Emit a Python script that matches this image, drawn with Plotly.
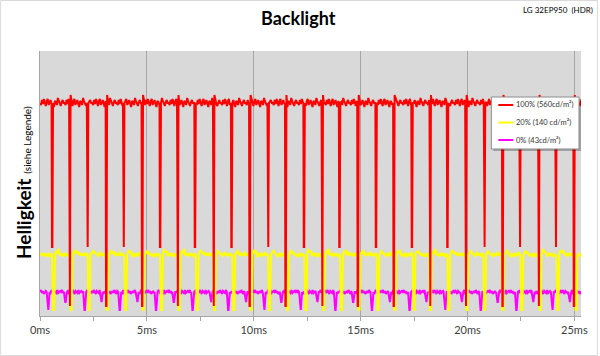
import plotly.graph_objects as go

# ---------------- data ----------------
series_names = ["100% (560cd/m²)", "20% (140 cd/m²)", "0% (43cd/m²)"]
series_colors = ["#ff0000", "#ffff00", "#ff00ff"]

# dip positions in ms
red_dips = [0.56, 1.38, 2.21, 3.09, 3.90, 4.77, 5.61, 6.43, 7.24, 8.11,
            8.95, 9.80, 10.66, 11.48, 12.34, 13.19, 14.00, 14.86, 15.71, 16.54,
            17.39, 18.24, 19.05, 19.91, 20.78, 21.63, 22.44, 23.32, 24.12, 24.97]
red_bottoms = [69, 10, 69, 10, 69, 10, 69, 10, 69, 10,
               69, 10, 69, 10, 69, 10, 69, 10, 69, 10,
               69, 10, 69, 10, 69, 10, 69, 10, 69, 10]
red_level = 213
red_ripple = [0, -2, 3, -1, 4, 1, -3, 2, 4, -2, 0, 3, -1, -4, 2, 1, -2, 5, 2, -1, -3, 1, 3, 0]

yellow_dips = [0.61, 1.43, 2.27, 3.12, 3.98, 4.80, 5.66, 6.48, 7.33, 8.14,
               9.04, 9.85, 10.71, 11.56, 12.41, 13.24, 14.08, 14.90, 15.79, 16.58,
               17.47, 18.24, 19.10, 19.95, 20.78, 21.63, 22.52, 23.37, 24.20, 25.05]
yellow_bottoms = [6, 6, 6, 6, 6, 6, 6, 6, 6, 6,
                  6, 6, 6, 6, 6, 6, 6, 6, 6, 6,
                  6, 6, 6, 6, 6, 6, 6, 6, 6, 6]
yellow_level = 61
yellow_ripple = [0, 1, -1, 0, 2, -1, 1, 0, -2, 1, 0, -1, 2, 0, -1, 1, 3, 0]

magenta_dips = [0.37, 1.18, 2.08, 2.86, 3.72, 4.54, 5.42, 6.25, 7.13, 7.99,
                8.80, 9.62, 10.48, 11.28, 12.18, 12.96, 13.81, 14.64, 15.52, 16.35,
                17.28, 18.06, 18.94, 19.72, 20.61, 21.40, 22.28, 23.06, 23.96, 24.77]
magenta_bottoms = [6, 14, 6, 14, 6, 14, 6, 14, 6, 14,
                   6, 14, 6, 14, 6, 14, 6, 14, 6, 14,
                   6, 14, 6, 14, 6, 14, 6, 14, 6, 14]
magenta_level = 24
magenta_ripple = [0, 2, -1, 1, -2, 0, 1, -1, 2, 0, -2, 1, 0, -1, 2, -1, 0, 1]

x_tick_vals = [0, 5, 10, 15, 20, 25]
x_tick_text = ["0ms", "5ms", "10ms", "15ms", "20ms", "25ms"]
x_max = 25.31
y_max = 265

title_text = "Backlight"
subtitle_text = "LG 32EP950  (HDR)"
y_title_main = "Helligkeit"
y_title_sub = "(siehe Legende)"


# ---------------- build waveforms ----------------
def build(dips, bottoms, level, ripple, w_down, w_flat, w_up, spike, bump):
    xs, ys = [], []
    t, k = 0.0, 0
    step = 0.045
    end_after = 0.0
    for d, b in zip(dips, bottoms):
        while t < d - w_down:
            extra = bump if t < end_after else 0
            xs.append(t)
            ys.append(level + ripple[k % len(ripple)] + extra)
            k += 1
            t += step
        xs += [d - w_down, d, d + w_flat, d + w_flat + w_up]
        ys += [level, b, b, level + (spike if b < level * 0.2 else 0)]
        t = d + w_flat + w_up + step
        end_after = t + 0.18
    while t <= x_max + 0.05:
        xs.append(t)
        ys.append(level + ripple[k % len(ripple)])
        k += 1
        t += step
    return xs, ys


rx, ry = build(red_dips, red_bottoms, red_level, red_ripple, 0.02, 0.02, 0.03, 8, 0)
yx, yy = build(yellow_dips, yellow_bottoms, yellow_level, yellow_ripple, 0.04, 0.05, 0.04, 0, 3)
mx, my = build(magenta_dips, magenta_bottoms, magenta_level, magenta_ripple, 0.06, 0.02, 0.06, 0, 0)

fig = go.Figure()
for xs, ys, name, col in [(mx, my, series_names[2], series_colors[2]),
                          (yx, yy, series_names[1], series_colors[1]),
                          (rx, ry, series_names[0], series_colors[0])]:
    fig.add_trace(go.Scatter(x=xs, y=ys, mode="lines", name=name,
                             line=dict(color=col, width=2), showlegend=False,
                             hoverinfo="skip"))

# ---------------- layout ----------------
L, R, T, B = 40, 583, 51, 316
W_, H_ = 600, 356


def px2x(px):
    return (px - L) / (R - L)


def px2y(py):
    return (B - py) / (B - T)


FONT = "Lato, 'Open Sans', sans-serif"

fig.update_layout(
    width=W_, height=H_,
    margin=dict(l=L, r=W_ - R, t=T, b=H_ - B),
    paper_bgcolor="white",
    plot_bgcolor="#d9d9d9",
    font=dict(family=FONT, color="#404040"),
    xaxis=dict(range=[0, x_max], tickvals=x_tick_vals, ticktext=x_tick_text,
               showgrid=True, gridcolor="#a6a6a6", gridwidth=1,
               ticks="outside", ticklen=4, tickcolor="#a6a6a6",
               minor=dict(dtick=2.5, ticks="outside", ticklen=4, tickcolor="#a6a6a6", showgrid=False),
               showline=True, linecolor="#a6a6a6", linewidth=1,
               zeroline=False, tickfont=dict(size=11, color="#404040", family=FONT)),
    yaxis=dict(range=[0, y_max], showgrid=False, showticklabels=False, ticks="",
               showline=True, linecolor="#a6a6a6", linewidth=1, zeroline=False),
)

shapes = []
annotations = []
# outer chart border
shapes.append(dict(type="rect", xref="paper", yref="paper",
                   x0=px2x(0.5), x1=px2x(599.5), y0=px2y(355.5), y1=px2y(0.5),
                   line=dict(color="#d9d9d9", width=1), fillcolor="rgba(0,0,0,0)", layer="below"))

# title & subtitle
annotations.append(dict(text="<b>" + title_text + "</b>", xref="paper", yref="paper",
                        x=px2x(299), y=px2y(18), xanchor="center", yanchor="middle",
                        showarrow=False, font=dict(size=18, color="black", family=FONT)))
annotations.append(dict(text=subtitle_text, xref="paper", yref="paper",
                        x=px2x(597), y=px2y(10), xanchor="right", yanchor="middle",
                        showarrow=False, font=dict(size=8, color="black", family=FONT)))
# y title
annotations.append(dict(text="<b>" + y_title_main + "</b> <span style='font-size:10px'>" + y_title_sub + "</span>",
                        xref="paper", yref="paper", x=px2x(23), y=px2y(183),
                        xanchor="center", yanchor="middle", textangle=-90, showarrow=False,
                        font=dict(size=19, color="black", family=FONT)))

# legend (manual)
lx0, lx1, ly0, ly1 = 493, 581, 97, 149
shapes.append(dict(type="rect", xref="paper", yref="paper",
                   x0=px2x(lx0 + 2), x1=px2x(lx1 + 2), y0=px2y(ly1 + 2), y1=px2y(ly0 + 2),
                   line=dict(width=0), fillcolor="rgba(0,0,0,0.25)"))
shapes.append(dict(type="rect", xref="paper", yref="paper",
                   x0=px2x(lx0), x1=px2x(lx1), y0=px2y(ly1), y1=px2y(ly0),
                   line=dict(color="#8c8c8c", width=1), fillcolor="white"))
entry_y = [105, 122.5, 140]
for name, col, ey in zip(series_names, series_colors, entry_y):
    shapes.append(dict(type="line", xref="paper", yref="paper",
                       x0=px2x(500), x1=px2x(515), y0=px2y(ey), y1=px2y(ey),
                       line=dict(color=col, width=2)))
    annotations.append(dict(text=name, xref="paper", yref="paper",
                            x=px2x(516), y=px2y(ey), xanchor="left", yanchor="middle",
                            showarrow=False, font=dict(size=7.5, color="#333333", family=FONT)))

fig.update_layout(shapes=shapes, annotations=annotations)
fig.write_html("out.html", config={"displayModeBar": False},
               post_script="document.body.style.margin='0';document.body.style.overflow='hidden';")
